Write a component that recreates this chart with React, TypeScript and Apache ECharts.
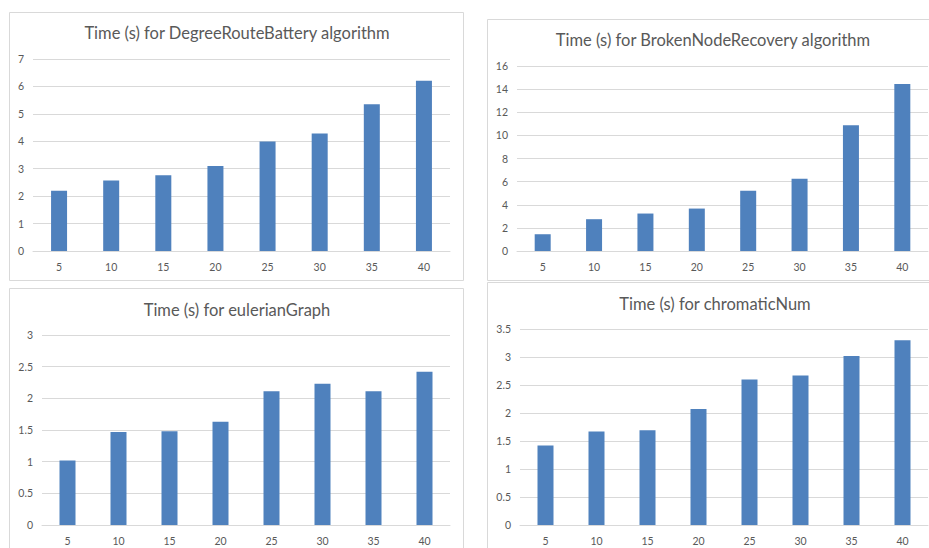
import React, { useEffect, useRef } from "react";
import * as echarts from "echarts";

const categories = ["5", "10", "15", "20", "25", "30", "35", "40"];
const degreeRouteBattery = [2.2, 2.57, 2.76, 3.1, 3.99, 4.28, 5.35, 6.21];
const brokenNodeRecovery = [1.45, 2.75, 3.24, 3.67, 5.21, 6.25, 10.88, 14.44];
const eulerianGraph = [1.02, 1.47, 1.48, 1.63, 2.11, 2.23, 2.11, 2.42];
const chromaticNum = [1.42, 1.67, 1.69, 2.07, 2.6, 2.67, 3.02, 3.3];

const titles = [
  "Time (s) for DegreeRouteBattery algorithm",
  "Time (s) for BrokenNodeRecovery algorithm",
  "Time (s) for eulerianGraph",
  "Time (s) for chromaticNum",
];
const yMax = [7, 16, 3, 3.5];
const yInterval = [1, 2, 0.5, 0.5];
const seriesData = [degreeRouteBattery, brokenNodeRecovery, eulerianGraph, chromaticNum];

const FONT = "Lato";
const TEXT = "#595959";
const GRIDLINE = "#D9D9D9";
const BAR = "#4F81BD";

const grids = [
  { left: 33, top: 59, width: 417, height: 192 },
  { left: 517, top: 66, width: 411, height: 185 },
  { left: 42, top: 335, width: 408, height: 190 },
  { left: 520, top: 329, width: 408, height: 196 },
];
const panels = [
  { x: 9.5, y: 12.5, w: 454, h: 268 },
  { x: 487.5, y: 19.5, w: 445, h: 261 },
  { x: 9.5, y: 288.5, w: 454, h: 270 },
  { x: 487.5, y: 282.5, w: 445, h: 270 },
];
const titlePos = [
  { x: 237, y: 33 },
  { x: 713, y: 40 },
  { x: 237, y: 310 },
  { x: 715, y: 304 },
];

export default function App() {
  const ref = useRef<HTMLDivElement>(null);
  useEffect(() => {
    document.body.style.margin = "0";
    const chart = echarts.init(ref.current!, null, { renderer: "svg" });
    const option: any = {
      animation: false,
      backgroundColor: "#ffffff",
      grid: grids.map((g) => ({ ...g, containLabel: false })),
      xAxis: grids.map((_, i) => ({
        type: "category",
        gridIndex: i,
        data: categories,
        axisTick: { show: false },
        axisLine: { show: true, lineStyle: { color: GRIDLINE, width: 1 } },
        axisLabel: { color: TEXT, fontFamily: FONT, fontSize: 10.5, margin: 10 },
      })),
      yAxis: grids.map((_, i) => ({
        type: "value",
        gridIndex: i,
        min: 0,
        max: yMax[i],
        interval: yInterval[i],
        axisLine: { show: false },
        axisTick: { show: false },
        splitLine: { lineStyle: { color: GRIDLINE, width: 1 } },
        axisLabel: { color: TEXT, fontFamily: FONT, fontSize: 10.5, margin: 9 },
      })),
      series: seriesData.map((d, i) => ({
        type: "bar",
        xAxisIndex: i,
        yAxisIndex: i,
        data: d,
        barWidth: 16,
        itemStyle: { color: BAR },
      })),
      graphic: [
        ...panels.map((p) => ({
          type: "rect",
          silent: true,
          z: -10,
          shape: { x: p.x, y: p.y, width: p.w, height: p.h },
          style: { fill: "none", stroke: GRIDLINE, lineWidth: 1 },
        })),
        ...titles.map((t, i) => ({
          type: "text",
          x: titlePos[i].x,
          y: titlePos[i].y,
          style: {
            text: t,
            fill: TEXT,
            font: `16.5px ${FONT}`,
            align: "center",
            verticalAlign: "middle",
          },
        })),
      ],
    };
    chart.setOption(option);
    return () => chart.dispose();
  }, []);
  return (
    <div
      ref={ref}
      style={{ position: "absolute", left: 0, top: 0, width: 929, height: 548 }}
    />
  );
}
